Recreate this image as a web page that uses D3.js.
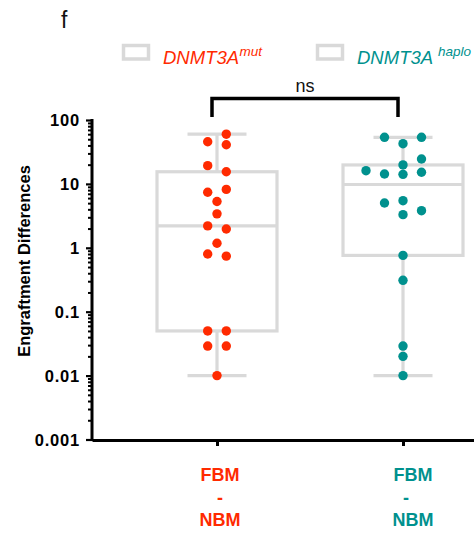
<!DOCTYPE html>
<html>
<head>
<meta charset="utf-8">
<script src="https://cdn.jsdelivr.net/npm/d3@7"></script>
<style>
  html, body { margin: 0; padding: 0; background: #fff; }
  svg { display: block; font-family: "Liberation Sans", Arial, Helvetica, sans-serif; }
</style>
</head>
<body>
<svg id="chart" width="474" height="533"></svg>
<script>
// Groups and their per-sample engraftment differences (FBM - NBM)
const groups = ["mut", "haplo"];
const groupNames = ["DNMT3A", "DNMT3A"];
const groupSups = ["mut", "haplo"];
const mutValues = [60, 45.7, 41, 19.3, 15.5, 8.2, 7.4, 5.3, 3.4, 2.2, 1.97, 1.18, 0.80, 0.74, 0.05, 0.05, 0.029, 0.029, 0.01];
const haploValues = [53.6, 53.6, 42.6, 24.5, 19.8, 16.1, 15.2, 14.3, 14.1, 5.46, 5.02, 3.81, 3.30, 0.76, 0.31, 0.029, 0.020, 0.01];
// scatter column for each dot (layout only)
const mutSlots = [1, -1, 1, -1, 1, 1, -1, 0, 0, -1, 1, 0, -1, 1, -1, 1, -1, 1, 0];
const haploSlots = [-1, 1, 0, 1, 0, -2, 1, -1, 0, 0, -1, 1, 0, 0, 0, 0, 0, 0];
const yTicks = [0.001, 0.01, 0.1, 1, 10, 100];
const yTickLabels = ["0.001", "0.01", "0.1", "1", "10", "100"];
const xLabelLines = ["FBM", "-", "NBM"];
const yTitle = "Engraftment Differences";
const sigLabel = "ns";
const panelLetter = "f";

const colors = { mut: "#ff2a00", haplo: "#00918e" };
const boxGray = "#d9d9d9";

const svg = d3.select("#chart");

const y = d3.scaleLog().domain([0.001, 100]).range([439.5, 120]);
const x = d3.scalePoint().domain(groups).range([92, 528]).padding(0.672);

// box statistics: median, hinges as medians of lower/upper halves
function boxStats(vals) {
  const s = vals.slice().sort(d3.ascending);
  const n = s.length, h = Math.floor(n / 2);
  return {
    min: s[0], max: s[n - 1],
    median: d3.median(s),
    q1: d3.median(s.slice(0, h)),
    q3: d3.median(s.slice(n - h))
  };
}

const series = [
  { key: "mut", values: mutValues, slots: mutSlots, step: 9.3 },
  { key: "haplo", values: haploValues, slots: haploSlots, step: 18.5 }
];

// panel letter
svg.append("text").attr("x", 61).attr("y", 28)
  .attr("font-size", 23).attr("fill", "#111").text(panelLetter);

// legend
const legendX = [122, 316];
groups.forEach((g, i) => {
  const lg = svg.append("g").attr("transform", `translate(${legendX[i]},0)`);
  lg.append("rect").attr("x", 1.5).attr("y", 45.5).attr("width", 25).attr("height", 13.5)
    .attr("fill", "none").attr("stroke", boxGray).attr("stroke-width", 3.5);
  const t = lg.append("text").attr("x", 41).attr("y", 64)
    .attr("font-style", "italic").attr("font-size", 18.5).attr("fill", colors[g]);
  t.append("tspan").text(groupNames[i]);
  t.append("tspan").attr("dx", i === 0 ? 0.5 : 5).attr("dy", -8.5)
    .attr("font-size", 13.5).text(groupSups[i]);
});

// y axis: major ticks with labels, minor ticks between
const minorTicks = [];
yTicks.slice(0, -1).forEach(d => { for (let k = 2; k <= 9; k++) minorTicks.push(d * k); });

const yAxisMinor = svg.append("g").attr("transform", "translate(92,0)")
  .call(d3.axisLeft(y).tickValues(minorTicks).tickSize(4).tickFormat(""));
yAxisMinor.select(".domain").remove();
yAxisMinor.selectAll(".tick line").attr("stroke", "#000").attr("stroke-width", 2);

const yAxis = svg.append("g").attr("transform", "translate(92,0)")
  .call(d3.axisLeft(y).tickValues(yTicks).tickSize(6).tickSizeOuter(0)
    .tickFormat((d, i) => yTickLabels[i]));
yAxis.select(".domain").attr("stroke", "#000").attr("stroke-width", 3)
  .attr("d", `M0,${y(100) - 1}V${y(0.001) + 1.5}`);
yAxis.selectAll(".tick line").attr("stroke", "#000").attr("stroke-width", 2.2);
yAxis.selectAll(".tick text").attr("x", -12).attr("dy", "0.36em")
  .attr("font-size", 16.5).attr("font-weight", "bold").attr("letter-spacing", 0.8)
  .attr("fill", "#000");

// y title
svg.append("text").attr("transform", "translate(29.5,261) rotate(-90)")
  .attr("text-anchor", "middle").attr("font-size", 16.5).attr("font-weight", "bold")
  .attr("fill", "#000").text(yTitle);

// x axis
const xAxis = svg.append("g").attr("transform", "translate(0,440)")
  .call(d3.axisBottom(x).tickSize(6).tickSizeOuter(0).tickFormat(""));
xAxis.select(".domain").attr("stroke", "#000").attr("stroke-width", 3);
xAxis.selectAll(".tick line").attr("stroke", "#000").attr("stroke-width", 3);

// category labels
groups.forEach(g => {
  const cx = x(g) + 3;
  const t = svg.append("g").attr("fill", colors[g]).attr("font-weight", "bold")
    .attr("font-size", 18).attr("text-anchor", "middle");
  const lineY = [481, 503.5, 525.5];
  const wordShift = g === "haplo" ? 7 : 0;
  xLabelLines.forEach((s, i) => {
    t.append("text").attr("x", cx + (s === "-" ? 0 : wordShift)).attr("y", lineY[i]).text(s);
  });
});

// box plots
const boxW = 120, capW = 59;
series.forEach(sr => {
  const st = boxStats(sr.values);
  const cx = x(sr.key);
  const g = svg.append("g").attr("stroke", boxGray).attr("stroke-width", 3.2).attr("fill", "none");
  g.append("line").attr("x1", cx).attr("x2", cx).attr("y1", y(st.max)).attr("y2", y(st.q3));
  g.append("line").attr("x1", cx).attr("x2", cx).attr("y1", y(st.q1)).attr("y2", y(st.min));
  g.append("line").attr("x1", cx - capW / 2).attr("x2", cx + capW / 2).attr("y1", y(st.max)).attr("y2", y(st.max));
  g.append("line").attr("x1", cx - capW / 2).attr("x2", cx + capW / 2).attr("y1", y(st.min)).attr("y2", y(st.min));
  g.append("rect").attr("x", cx - boxW / 2).attr("y", y(st.q3))
    .attr("width", boxW).attr("height", y(st.q1) - y(st.q3));
  g.append("line").attr("x1", cx - boxW / 2).attr("x2", cx + boxW / 2)
    .attr("y1", y(st.median)).attr("y2", y(st.median));
});

// data points
series.forEach(sr => {
  const cx = x(sr.key);
  svg.append("g").selectAll("circle").data(sr.values).join("circle")
    .attr("cx", (d, i) => cx + sr.slots[i] * sr.step)
    .attr("cy", d => y(d))
    .attr("r", 4.7)
    .attr("fill", colors[sr.key]);
});

// significance bracket
const bx0 = x("mut") - 5, bx1 = x("haplo") - 5, by = 98.5;
svg.append("path")
  .attr("d", `M${bx0},117V${by}H${bx1}V117`)
  .attr("fill", "none").attr("stroke", "#000").attr("stroke-width", 3.5);
svg.append("text").attr("x", (bx0 + bx1) / 2).attr("y", 91.5)
  .attr("text-anchor", "middle").attr("font-size", 18).attr("fill", "#111").text(sigLabel);
</script>
</body>
</html>
